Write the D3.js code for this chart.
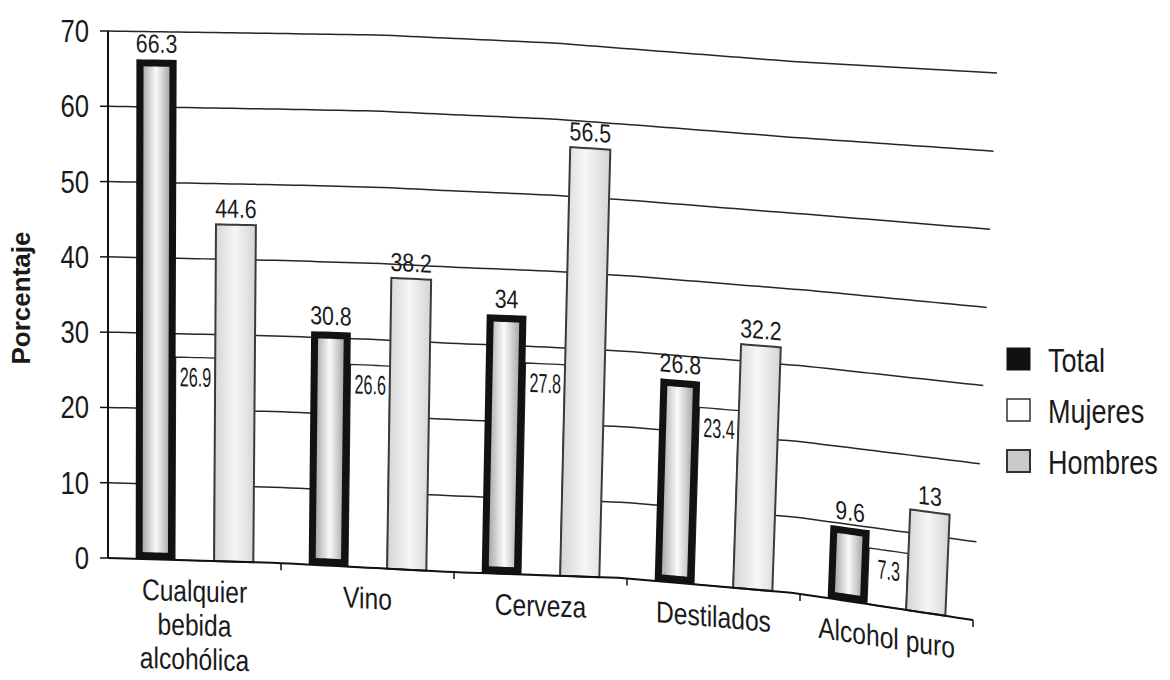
<!DOCTYPE html>
<html><head><meta charset="utf-8">
<script src="https://cdn.jsdelivr.net/npm/d3@7"></script>
<style>
html,body{margin:0;padding:0;background:#fff;}
svg{display:block;}
text{font-family:'Liberation Sans',Arial,Helvetica,sans-serif;fill:#1a1a1a;}
</style></head><body>
<svg id="chart" width="1170" height="680"></svg>
<script>
// ---------- data ----------
const categories = ["Cualquier bebida alcohólica", "Vino", "Cerveza", "Destilados", "Alcohol puro"];
const seriesNames = ["Total", "Mujeres", "Hombres"];
const totalValues = [66.3, 30.8, 34, 26.8, 9.6];
const mujeresValues = [26.9, 26.6, 27.8, 23.4, 7.3];
const hombresValues = [44.6, 38.2, 56.5, 32.2, 13];
const yTickValues = [0, 10, 20, 30, 40, 50, 60, 70];
const yAxisTitle = "Porcentaje";

const seriesValues = {Total: totalValues, Mujeres: mujeresValues, Hombres: hombresValues};
const NARROW = 0.82; // condensed typeface emulation

const svg = d3.select("#chart");

// ---------- flat scales ----------
const x0 = d3.scaleBand().domain(categories).range([0, 1]).paddingInner(0.32).paddingOuter(0.16);
const x1 = d3.scaleBand().domain(seriesNames).range([0, x0.bandwidth()]);
const y = d3.scaleLinear().domain([0, 70]).range([0, 1]);

// ---------- scanned-page warp (the printed page is photographed in perspective) ----------
const topEdge = d3.scaleLinear().domain([0, .306, .501, .778, 1]).range([31, 35, 43, 62, 73]);
const botEdge = d3.scaleLinear().domain([0, .197, .396, .595, .793, 1]).range([558, 563, 572, 578, 593, 620]);
const leftX = 108, botW = 865, topW = 889;
function warp(u, t) {
  const xb = leftX + botW * u, xt = leftX + topW * u;
  const yb = botEdge(u), yt = topEdge(u);
  return [xb + (xt - xb) * t, yb + (yt - yb) * t];
}
function angleAt(u, t) {
  const a = warp(u - 0.005, t), b = warp(u + 0.005, t);
  return Math.atan2(b[1] - a[1], b[0] - a[0]) * 180 / Math.PI;
}
const line = d3.line();
function quad(u0, u1, t0, t1) {
  const pts = [];
  const n = 6;
  for (let i = 0; i <= n; i++) pts.push(warp(u0 + (u1 - u0) * i / n, t0));
  for (let i = n; i >= 0; i--) pts.push(warp(u0 + (u1 - u0) * i / n, t1));
  return line(pts) + "Z";
}

// ---------- defs ----------
const defs = svg.append("defs");
function grad(id, stops) {
  const g = defs.append("linearGradient").attr("id", id).attr("x1", 0).attr("x2", 1).attr("y1", 0).attr("y2", 0);
  stops.forEach(s => g.append("stop").attr("offset", s[0]).attr("stop-color", s[1]));
}
grad("gT", [[0, "#a8a8a8"], [0.25, "#d2d2d2"], [0.5, "#fafafa"], [0.75, "#d2d2d2"], [1, "#a8a8a8"]]);
grad("gH", [[0, "#d4d4d4"], [0.5, "#f6f6f6"], [1, "#d4d4d4"]]);

// ---------- gridlines ----------
const uSamples = d3.range(0, 1.0001, 0.01);
svg.append("g").selectAll("path").data(yTickValues.filter(v => v > 0)).join("path")
  .attr("d", v => line(uSamples.map(u => warp(u, y(v)))))
  .attr("fill", "none").attr("stroke", "#262626").attr("stroke-width", 1.5);

// ---------- bars ----------
const barsG = svg.append("g");
const insetU = 7 / 870, insetT = 7 / 530;
categories.forEach((c, i) => {
  const g = barsG.append("g");
  {
    const u0 = x0(c) + x1("Mujeres"), u1 = u0 + x1.bandwidth(), t = y(mujeresValues[i]);
    g.append("path").attr("d", quad(u0, u1, 0, t)).attr("fill", "#fff").attr("stroke", "#2a2a2a").attr("stroke-width", 1.3);
  }
  {
    const u0 = x0(c) + x1("Total"), u1 = u0 + x1.bandwidth(), t = y(totalValues[i]);
    g.append("path").attr("d", quad(u0, u1, 0, t)).attr("fill", "#121212");
    g.append("path").attr("d", quad(u0 + insetU, u1 - insetU, insetT, t - insetT)).attr("fill", "url(#gT)");
  }
  {
    const u0 = x0(c) + x1("Hombres"), u1 = u0 + x1.bandwidth(), t = y(hombresValues[i]);
    g.append("path").attr("d", quad(u0, u1, 0, t)).attr("fill", "url(#gH)").attr("stroke", "#3a3a3a").attr("stroke-width", 2);
  }
});

// ---------- axes ----------
const axG = svg.append("g");
axG.append("path").attr("d", line([warp(0, 0), warp(0, 1)])).attr("stroke", "#111").attr("stroke-width", 2).attr("fill", "none");
axG.append("path").attr("d", line(uSamples.map(u => warp(u, 0)))).attr("stroke", "#111").attr("stroke-width", 2).attr("fill", "none");
axG.selectAll("path.yt").data(yTickValues).join("path").attr("class", "yt")
  .attr("d", v => { const p = warp(0, y(v)); return line([[p[0] - 8, p[1]], p]); })
  .attr("stroke", "#111").attr("stroke-width", 1.5);
axG.selectAll("text.ytl").data(yTickValues).join("text").attr("class", "ytl")
  .attr("transform", v => { const p = warp(0, y(v)); return `translate(${p[0] - 19},${p[1] + 11}) scale(${NARROW * 0.98},1)`; })
  .attr("text-anchor", "end").attr("font-size", 32).text(v => v);
const boundaries = categories.map(c => x0(c) + x0.bandwidth() + (x0.step() - x0.bandwidth()) / 2);
axG.selectAll("path.xt").data(boundaries).join("path").attr("class", "xt")
  .attr("d", u => { const p = warp(u, 0); return line([p, [p[0], p[1] + 7]]); })
  .attr("stroke", "#111").attr("stroke-width", 1.5);

// category labels (sheared like the page, verticals stay vertical)
categories.forEach(c => {
  const uc = x0(c) + x0.bandwidth() / 2;
  const p = warp(uc, 0), a = angleAt(uc, 0);
  const lines = c.length > 14 ? c.split(" ") : [c];
  const t = axG.append("text").attr("transform", `translate(${p[0]},${p[1]}) skewY(${a}) scale(${NARROW},1)`)
    .attr("text-anchor", "middle").attr("font-size", 30);
  lines.forEach((l, k) => t.append("tspan").attr("x", 0).attr("y", 41 + k * 34).text(l));
});

// y title
svg.append("text").attr("transform", "translate(30,298) rotate(-90)")
  .attr("text-anchor", "middle").attr("font-size", 26).attr("font-weight", "bold").text(yAxisTitle);

// ---------- value labels ----------
const labG = svg.append("g");
categories.forEach((c, i) => {
  ["Total", "Hombres"].forEach(s => {
    const uc = x0(c) + x1(s) + x1.bandwidth() / 2, t = y(seriesValues[s][i]);
    const p = warp(uc, t), a = angleAt(uc, t);
    labG.append("text").attr("transform", `translate(${p[0]},${p[1]}) skewY(${a}) scale(${NARROW},1)`)
      .attr("y", -7).attr("text-anchor", "middle").attr("font-size", 26).text(seriesValues[s][i]);
  });
  const uc = x0(c) + x1("Mujeres") + x1.bandwidth() / 2, t = y(mujeresValues[i]);
  const p = warp(uc, t), a = angleAt(uc, t);
  labG.append("text").attr("transform", `translate(${p[0]},${p[1]}) skewY(${a}) scale(0.6,1)`)
    .attr("y", 29).attr("text-anchor", "middle").attr("font-size", 27).text(mujeresValues[i]);
});

// ---------- legend ----------
const legG = svg.append("g").attr("transform", "translate(1007,348)");
const legStyles = {
  Total: {fill: "#111", stroke: "#111", sw: 1},
  Mujeres: {fill: "#fff", stroke: "#333", sw: 1.5},
  Hombres: {fill: "#c9c9c9", stroke: "#333", sw: 2}
};
seriesNames.forEach((s, k) => {
  const g = legG.append("g").attr("transform", `translate(0,${k * 51})`);
  g.append("rect").attr("width", 23).attr("height", 22)
    .attr("fill", legStyles[s].fill).attr("stroke", legStyles[s].stroke).attr("stroke-width", legStyles[s].sw);
  g.append("text").attr("transform", `translate(41,24) scale(${NARROW},1)`).attr("font-size", 33).text(s);
});
</script>
</body></html>
